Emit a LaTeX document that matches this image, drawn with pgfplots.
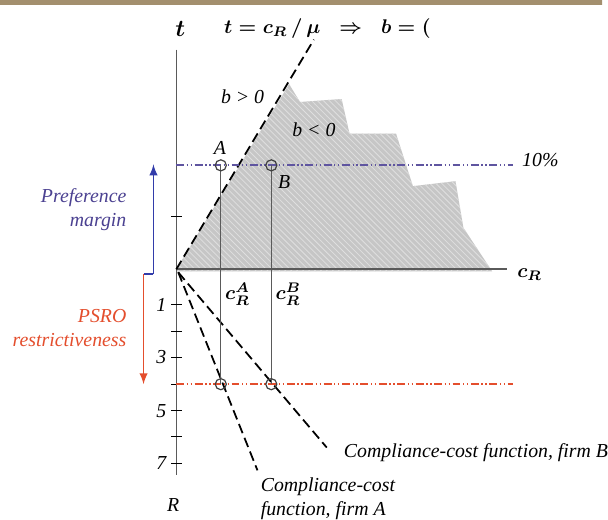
\documentclass[border=0pt]{standalone}
\usepackage{amsmath}
\usepackage{pgfplots}
\pgfplotsset{compat=1.18}
\usepackage{fontspec}
\setmainfont{Liberation Serif}
\usetikzlibrary{patterns}

\definecolor{band}{RGB}{163,143,110}
\definecolor{pmtext}{RGB}{75,65,145}
\definecolor{pmline}{RGB}{95,85,160}
\definecolor{pmarrow}{RGB}{50,60,170}
\definecolor{psro}{RGB}{228,78,45}
\definecolor{axisgray}{RGB}{90,90,90}

\begin{document}
\begin{tikzpicture}
\begin{axis}[
    scale only axis,
    width=304pt, height=261.5pt,
    xmin=0, xmax=608, ymin=0, ymax=523,
    y dir=reverse,
    hide axis,
    clip=false,
]
% background and top band
\addplot[fill=white, draw=none] coordinates {(0,0) (608,0) (608,523) (0,523) (0,0)};
\addplot[fill=band, draw=none] coordinates {(0,0) (608,0) (608,5) (0,5) (0,0)};

% shaded region b<0
\addplot[fill=gray!45, draw=none]
    coordinates {(178,272) (292,85) (303,103) (345,100) (353,135) (400,135)
                 (417,188) (460,183) (468,230) (497,274) (178,274) (178,272)};
\addplot[pattern=north west lines, pattern color=gray!25, draw=none]
    coordinates {(178,272) (292,85) (303,103) (345,100) (353,135) (400,135)
                 (417,188) (460,183) (468,230) (497,274) (178,274) (178,272)};

% axes
\addplot[axisgray, line width=0.7pt] coordinates {(178,50) (178,480)};
\addplot[axisgray, line width=1pt] coordinates {(178,272) (512,272)};
\addplot[black, line width=0.5pt] coordinates {(173,219) (184,219)};
\addplot[black, line width=0.5pt] coordinates {(173,308) (184,308)};
\addplot[black, line width=0.5pt] coordinates {(173,335) (184,335)};
\addplot[black, line width=0.5pt] coordinates {(173,361) (184,361)};
\addplot[black, line width=0.5pt] coordinates {(173,388) (184,388)};
\addplot[black, line width=0.5pt] coordinates {(173,415) (184,415)};
\addplot[black, line width=0.5pt] coordinates {(173,441) (184,441)};
\addplot[black, line width=0.5pt] coordinates {(173,468) (184,468)};

% t = c_R / mu
\addplot[black, dash pattern=on 5pt off 2.5pt, line width=0.9pt] coordinates {(178,272) (317,40)};
% compliance-cost functions
\addplot[black, dash pattern=on 5pt off 2.5pt, line width=0.9pt] coordinates {(180,275) (260,475)};
\addplot[black, dash pattern=on 5pt off 2.5pt, line width=0.9pt] coordinates {(180,275) (330,452)};

% preference line (10 percent) and PSRO line
\addplot[pmline, line width=0.9pt, dash pattern=on 4pt off 1.3pt on 0.7pt off 1.3pt on 0.7pt off 1.3pt]
    coordinates {(178,167) (518,167)};
\addplot[psro, line width=0.9pt, dash pattern=on 4pt off 1.3pt on 0.7pt off 1.3pt on 0.7pt off 1.3pt]
    coordinates {(178,388) (518,388)};

% verticals from A and B
\addplot[axisgray, line width=0.5pt] coordinates {(223,167) (223,388)};
\addplot[axisgray, line width=0.5pt] coordinates {(274,167) (274,388)};

% points
\addplot[only marks, mark=o, mark size=2.8pt, mark options={draw=black!75, line width=0.6pt}]
    coordinates {(223,167) (274,167) (223,388) (274,388)};

% margin arrows
\addplot[psro, line width=0.9pt, -latex] coordinates {(145,277) (145,388)};
\addplot[pmarrow, line width=0.9pt] coordinates {(145,277) (155,277)};
\addplot[pmarrow, line width=0.9pt, -latex] coordinates {(155,277) (155,166)};
\end{axis}

% labels, in the same pixel frame as the axis (1 px = 0.5pt, y downwards)
\begin{scope}[x=0.5pt, y=-0.5pt, yshift=261.5pt, every node/.style={font=\itshape, inner sep=0pt}]
\node at (182,29) {\large$\boldsymbol{t}$};
\node[anchor=west] at (226,29) {\normalsize$\boldsymbol{t=c_R\,/\,\mu\;\;\Rightarrow\;\; b=(}$};
\node at (245,98) {b > 0};
\node at (317,131) {b < 0};
\node at (222,149) {A};
\node at (287,184) {B};
\node[anchor=west] at (527,162) {10\%};
\node[anchor=west] at (522,277) {$\boldsymbol{c_R}$};
\node[anchor=west] at (227,297) {$\boldsymbol{c_R^A}$};
\node[anchor=west] at (278,297) {$\boldsymbol{c_R^B}$};
\node[anchor=east, align=right, text=pmtext] at (128,212) {Preference\\margin};
\node[anchor=east, align=right, text=psro] at (128,331) {PSRO\\restrictiveness};
\node at (163,308) {1};
\node at (163,361) {3};
\node at (163,415) {5};
\node at (163,468) {7};
\node at (175,510) {R};
\node[anchor=west] at (347,457) {Compliance-cost function, firm B};
\node[anchor=west, align=left] at (263,504) {Compliance-cost\\function, firm A};
\end{scope}
\end{tikzpicture}
\end{document}
